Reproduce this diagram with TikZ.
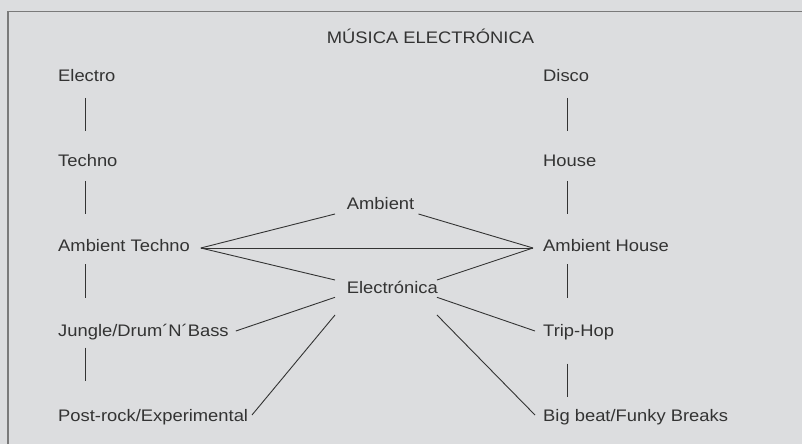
\documentclass[tikz,border=0pt]{standalone}
\usepackage{fontspec}
\setmainfont{Liberation Sans}[FakeStretch=1.1]
\usepackage{tikz}
\usetikzlibrary{calc}
\definecolor{panelgray}{HTML}{DCDDDF}
\definecolor{inkgray}{HTML}{333333}
\definecolor{framegray}{HTML}{7A7A7A}
\tikzset{
  genre/.style={anchor=base west,inner sep=0pt,text height=12pt,text depth=0pt,
    text=inkgray,font=\fontsize{16.7}{20}\selectfont},
  link/.style={draw=inkgray,line width=0.9pt}
}

\begin{document}
\begin{tikzpicture}[x=1pt,y=-1pt]
  \fill[panelgray] (0,0) rectangle (802,444);
  \useasboundingbox (0,0) rectangle (802,444);
  \draw[framegray,line width=1.5pt] (8,444) -- (8,11.5) -- (802,11.5);
  % title
  \node[genre,anchor=base] (title) at (430.5,43.3) {MÚSICA ELECTRÓNICA};
  % left column
  \node[genre] (electro) at (58,81.7) {Electro};
  \node[genre] (techno) at (58,166.7) {Techno};
  \node[genre] (amtechno) at (58,251.7) {Ambient Techno};
  \node[genre] (jungle) at (58,336.7) {Jungle/Drum´N´Bass};
  \node[genre] (postrock) at (58,421.7) {Post-rock/Experimental};
  % right column
  \node[genre] (disco) at (543,81.7) {Disco};
  \node[genre] (house) at (543,166.7) {House};
  \node[genre] (amhouse) at (543,251.7) {Ambient House};
  \node[genre] (triphop) at (543,336.7) {Trip-Hop};
  \node[genre] (bigbeat) at (543,421.7) {Big beat/Funky Breaks};
  % middle
  \node[genre] (ambient) at (346.7,209.3) {Ambient};
  \node[genre] (electronica) at (346.7,293.3) {Electrónica};
  % vertical links
  \draw[link] ([xshift=27pt,yshift=-16pt]electro.south west) -- ([xshift=27pt,yshift=23.7pt]techno.north west);
  \draw[link] ([xshift=27pt,yshift=-14pt]techno.south west) -- ([xshift=27pt,yshift=25.4pt]amtechno.north west);
  \draw[link] ([xshift=27pt,yshift=-12.3pt]amtechno.south west) -- ([xshift=27pt,yshift=27pt]jungle.north west);
  \draw[link] ([xshift=27pt,yshift=-10.6pt]jungle.south west) -- ([xshift=27pt,yshift=28.7pt]postrock.north west);
  \draw[link] ([xshift=24pt,yshift=-16pt]disco.south west) -- ([xshift=24pt,yshift=23.7pt]house.north west);
  \draw[link] ([xshift=24pt,yshift=-14pt]house.south west) -- ([xshift=24pt,yshift=25.4pt]amhouse.north west);
  \draw[link] ([xshift=24pt,yshift=-12.3pt]amhouse.south west) -- ([xshift=24pt,yshift=27pt]triphop.north west);
  \draw[link] ([xshift=24pt,yshift=-26.6pt]triphop.south west) -- ([xshift=24pt,yshift=13pt]bigbeat.north west);
  % links through the middle
  \coordinate (atend) at ($(amtechno.base east)+(10.7,-3.7)$);
  \coordinate (ahend) at ($(amhouse.base west)+(-10,-3.7)$);
  \draw[link] (atend) -- ($(ambient.base west)+(-11.7,4.7)$);
  \draw[link] (atend) -- (ahend);
  \draw[link] (atend) -- ($(electronica.base west)+(-11.7,-13.3)$);
  \draw[link] ($(ambient.base east)+(4,4.7)$) -- (ahend);
  \draw[link] ($(electronica.base east)+(-1,-13.3)$) -- (ahend);
  \draw[link] ($(electronica.base west)+(-11.7,4)$) -- ($(jungle.base east)+(7,-5.7)$);
  \draw[link] ($(electronica.base west)+(-11.7,21.7)$) -- ($(postrock.base east)+(3.7,-6.7)$);
  \draw[link] ($(electronica.base east)+(-1,4)$) -- ($(triphop.base west)+(-8,-5.7)$);
  \draw[link] ($(electronica.base east)+(-1,21.7)$) -- ($(bigbeat.base west)+(-8,-6.7)$);
\end{tikzpicture}
\end{document}
